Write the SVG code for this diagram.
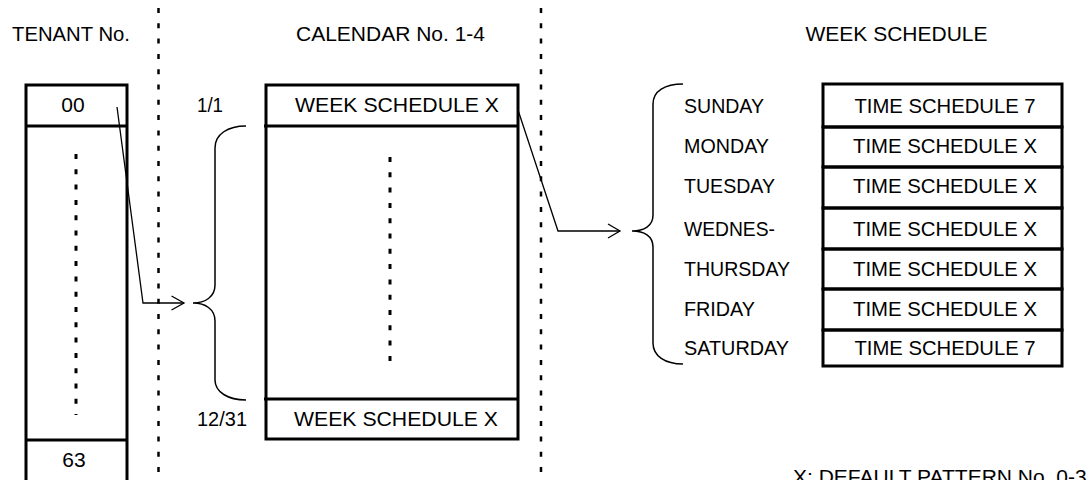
<svg xmlns="http://www.w3.org/2000/svg" width="1088" height="480" viewBox="0 0 1088 480">
<style>
text{font-family:"Liberation Sans",Arial,sans-serif;font-size:21px;fill:#000}
.m{text-anchor:middle}
.box{fill:none;stroke:#000;stroke-width:3}
.div{stroke:#000;stroke-width:3;fill:none}
.dash{stroke:#000;stroke-width:2.5;stroke-dasharray:5 10.3;fill:none}
.dot{stroke:#000;stroke-width:3;stroke-dasharray:5 10.3;fill:none}
.con{stroke:#000;stroke-width:1.3;fill:none}
.brace{stroke:#000;stroke-width:1.5;fill:none}
</style>
<rect width="1088" height="480" fill="#fff"/>
<g id="separators">
<line class="dash" x1="158.5" y1="8" x2="158.5" y2="480"/>
<line class="dash" x1="541" y1="8" x2="541" y2="480"/>
</g>
<g id="headers">
<text class="m" x="71" y="41" textLength="118" lengthAdjust="spacingAndGlyphs">TENANT No.</text>
<text class="m" x="390.5" y="41" textLength="189" lengthAdjust="spacingAndGlyphs">CALENDAR No. 1-4</text>
<text class="m" x="896.5" y="41">WEEK SCHEDULE</text>
</g>
<g id="tenant">
<rect class="box" x="26" y="85" width="101" height="420"/>
<line class="div" x1="26" y1="126" x2="127" y2="126"/>
<line class="div" x1="26" y1="440" x2="127" y2="440"/>
<line class="dot" x1="76" y1="154" x2="76" y2="415"/>
<text class="m" x="73" y="112">00</text>
<text class="m" x="74" y="467">63</text>
</g>
<g id="calendar">
<rect class="box" x="266" y="85" width="252" height="354"/>
<line class="div" x1="264" y1="126" x2="518" y2="126"/>
<line class="div" x1="264" y1="399" x2="518" y2="399"/>
<line class="dot" x1="390" y1="157" x2="390" y2="364"/>
<text class="m" x="397" y="112" textLength="204" lengthAdjust="spacingAndGlyphs">WEEK SCHEDULE X</text>
<text class="m" x="396" y="426" textLength="204" lengthAdjust="spacingAndGlyphs">WEEK SCHEDULE X</text>
<text x="197" y="112" textLength="26" lengthAdjust="spacingAndGlyphs">1/1</text>
<text x="197" y="426" textLength="50" lengthAdjust="spacingAndGlyphs">12/31</text>
</g>
<g id="calendar-brace">
<path class="brace" d="M246 126 C228 126 215 134 215 148 L215 285 C215 297 205 303 193 303 C205 303 215 309 215 321 L215 380 C215 392 228 400 246 400"/>
</g>
<g id="days">
<text x="684" y="113" textLength="80" lengthAdjust="spacingAndGlyphs">SUNDAY</text>
<text x="684" y="153" textLength="85" lengthAdjust="spacingAndGlyphs">MONDAY</text>
<text x="684" y="193" textLength="91" lengthAdjust="spacingAndGlyphs">TUESDAY</text>
<text x="684" y="236" textLength="91" lengthAdjust="spacingAndGlyphs">WEDNES-</text>
<text x="684" y="276" textLength="106" lengthAdjust="spacingAndGlyphs">THURSDAY</text>
<text x="684" y="316" textLength="71" lengthAdjust="spacingAndGlyphs">FRIDAY</text>
<text x="684" y="355" textLength="105" lengthAdjust="spacingAndGlyphs">SATURDAY</text>
</g>
<g id="week-brace">
<path class="brace" d="M683 84 C665 84 653 91 653 104 L653 215 C653 226 644 231 632 231 C644 231 653 236 653 247 L653 343 C653 356 665 364 683 364"/>
</g>
<g id="time-schedules">
<rect class="box" x="823" y="84" width="239" height="43"/>
<rect class="box" x="823" y="127" width="239" height="40"/>
<rect class="box" x="823" y="167" width="239" height="41"/>
<rect class="box" x="823" y="208" width="239" height="41"/>
<rect class="box" x="823" y="249" width="239" height="40"/>
<rect class="box" x="823" y="289" width="239" height="41"/>
<rect class="box" x="823" y="330" width="239" height="36"/>
<text class="m" x="945" y="113" textLength="181" lengthAdjust="spacingAndGlyphs">TIME SCHEDULE 7</text>
<text class="m" x="945" y="153" textLength="184" lengthAdjust="spacingAndGlyphs">TIME SCHEDULE X</text>
<text class="m" x="945" y="193" textLength="184" lengthAdjust="spacingAndGlyphs">TIME SCHEDULE X</text>
<text class="m" x="945" y="236" textLength="184" lengthAdjust="spacingAndGlyphs">TIME SCHEDULE X</text>
<text class="m" x="945" y="276" textLength="184" lengthAdjust="spacingAndGlyphs">TIME SCHEDULE X</text>
<text class="m" x="945" y="316" textLength="184" lengthAdjust="spacingAndGlyphs">TIME SCHEDULE X</text>
<text class="m" x="945" y="355" textLength="181" lengthAdjust="spacingAndGlyphs">TIME SCHEDULE 7</text>
</g>
<g id="note">
<text x="793" y="484">X: DEFAULT PATTERN No. 0-3</text>
</g>
<g id="connectors">
<polyline class="con" points="117,107 143,303 184,303"/>
<polyline class="con" points="171.5,296 184,303 171.5,310"/>
<polyline class="con" points="518,110 558,231 620,231"/>
<polyline class="con" points="608,224 620,231 608,238"/>
</g>
</svg>
